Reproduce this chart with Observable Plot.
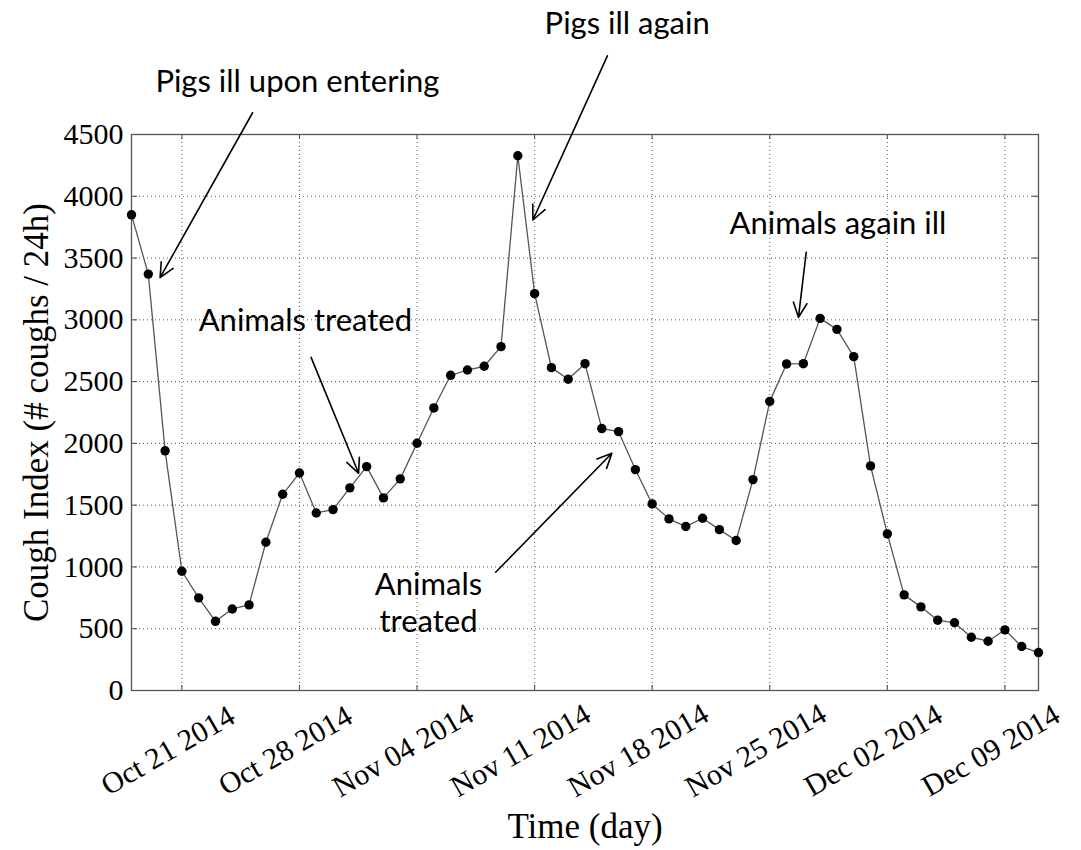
<!DOCTYPE html>
<html>
<head>
<meta charset="utf-8">
<script src="https://cdn.jsdelivr.net/npm/d3@7"></script>
<script src="https://cdn.jsdelivr.net/npm/@observablehq/plot@0.6"></script>
<style>
  html, body { margin: 0; padding: 0; background: #fff; }
  #chart svg { display: block; }
</style>
</head>
<body>
<div id="chart"></div>
<script>
// ---- data ----
const days = [
  "2014-10-18","2014-10-19","2014-10-20","2014-10-21","2014-10-22","2014-10-23","2014-10-24",
  "2014-10-25","2014-10-26","2014-10-27","2014-10-28","2014-10-29","2014-10-30","2014-10-31",
  "2014-11-01","2014-11-02","2014-11-03","2014-11-04","2014-11-05","2014-11-06","2014-11-07",
  "2014-11-08","2014-11-09","2014-11-10","2014-11-11","2014-11-12","2014-11-13","2014-11-14",
  "2014-11-15","2014-11-16","2014-11-17","2014-11-18","2014-11-19","2014-11-20","2014-11-21",
  "2014-11-22","2014-11-23","2014-11-24","2014-11-25","2014-11-26","2014-11-27","2014-11-28",
  "2014-11-29","2014-11-30","2014-12-01","2014-12-02","2014-12-03","2014-12-04","2014-12-05",
  "2014-12-06","2014-12-07","2014-12-08","2014-12-09","2014-12-10","2014-12-11"
];
const coughIndex = [
  3850, 3370, 1940, 965, 750, 560, 660,
  693, 1200, 1588, 1760, 1437, 1464, 1640,
  1812, 1559, 1713, 2001, 2287, 2551, 2594,
  2624, 2783, 4328, 3212, 2613, 2519, 2645,
  2120, 2095, 1788, 1510, 1389, 1327, 1394,
  1302, 1214, 1707, 2340, 2643, 2645, 3012,
  2923, 2702, 1818, 1268, 774, 677, 569,
  548, 431, 399, 491, 356, 307
];
const xTickDays = ["2014-10-21","2014-10-28","2014-11-04","2014-11-11","2014-11-18","2014-11-25","2014-12-02","2014-12-09"];
const yTickValues = [0, 500, 1000, 1500, 2000, 2500, 3000, 3500, 4000, 4500];
const xDomain = ["2014-10-18", "2014-12-11"];
const yDomain = [0, 4500];

// annotations (positions in data units: date-time, cough index)
const noteTexts = ["Pigs ill upon entering", "Pigs ill again", "Animals treated", "Animals again ill", "Animals\ntreated"];
const noteX = ["2014-10-27T21:00Z", "2014-11-16T12:15Z", "2014-10-28T08:25Z", "2014-11-29T01:25Z", "2014-11-04T16:20Z"];
const noteY = [4840, 5315, 2912, 3697, 477];
const arrowX1 = ["2014-10-25T05:00Z", "2014-11-15T08:00Z", "2014-10-28T16:35Z", "2014-11-27T04:05Z", "2014-11-08T16:20Z"];
const arrowY1 = [4676, 5137, 2696, 3546, 957];
const arrowX2 = ["2014-10-19T16:50Z", "2014-11-10T21:35Z", "2014-10-31T12:30Z", "2014-11-26T17:00Z", "2014-11-15T14:25Z"];
const arrowY2 = [3341, 3808, 1758, 3020, 1920];

// ---- build tables ----
const parse = s => new Date(s.length === 10 ? s + "T00:00:00Z" : s);
const series = days.map((d, i) => ({date: parse(d), value: coughIndex[i]}));
const xTicks = xTickDays.map(parse);
const notes = noteTexts.map((t, i) => ({text: t, x: parse(noteX[i]), y: noteY[i]}));
const arrows = arrowX1.map((d, i) => ({x1: parse(d), y1: arrowY1[i], x2: parse(arrowX2[i]), y2: arrowY2[i]}));

const W = 1081, H = 850, mt = 134, mb = 160, ml = 131, mr = 43;
const plotW = W - ml - mr, plotH = H - mt - mb;
const serif = "'Liberation Serif', 'DejaVu Serif', serif";
const sans = "Lato, 'Open Sans', sans-serif";
const fmt = d3.utcFormat("%b %d %Y");

const chart = Plot.plot({
  width: W, height: H,
  marginTop: mt, marginBottom: mb, marginLeft: ml, marginRight: mr,
  style: {fontFamily: serif, fontSize: "30px", background: "#fff", overflow: "visible", color: "#000"},
  x: {type: "utc", domain: xDomain.map(parse)},
  y: {domain: yDomain},
  marks: [
    Plot.gridX(xTicks, {stroke: "#555", strokeOpacity: 1, strokeDasharray: "1,3"}),
    Plot.gridY(yTickValues, {stroke: "#555", strokeOpacity: 1, strokeDasharray: "1,3"}),
    // inward ticks on all four sides
    Plot.tickX(xTicks, {x: d => d, insetTop: plotH - 5, stroke: "#444"}),
    Plot.tickX(xTicks, {x: d => d, insetBottom: plotH - 5, stroke: "#444"}),
    Plot.tickY(yTickValues, {y: d => d, insetRight: plotW - 6, stroke: "#444"}),
    Plot.tickY(yTickValues, {y: d => d, insetLeft: plotW - 6, stroke: "#444"}),
    Plot.frame({stroke: "#555", strokeWidth: 1.3}),
    Plot.axisY({ticks: yTickValues, tickSize: 0, tickPadding: 8, tickFormat: d => String(d),
                fontFamily: serif, fontSize: 30, label: null}),
    Plot.axisX({ticks: xTicks, tickSize: 0, tickFormat: fmt, tickRotate: -30, textAnchor: "middle",
                lineAnchor: "middle", tickPadding: 60, dx: -14, fontFamily: serif, fontSize: 30, label: null}),
    Plot.text(["Time (day)"], {frameAnchor: "bottom", dy: 147, lineAnchor: "bottom", fontFamily: serif, fontSize: 35}),
    Plot.text(["Cough Index (# coughs / 24h)"], {frameAnchor: "left", dx: -84, rotate: -90,
                lineAnchor: "bottom", textAnchor: "middle", fontFamily: serif, fontSize: 35}),
    Plot.line(series, {x: "date", y: "value", stroke: "#555", strokeWidth: 1.3}),
    Plot.dot(series, {x: "date", y: "value", r: 4.7, fill: "#000", stroke: "none"}),
    Plot.arrow(arrows, {x1: "x1", y1: "y1", x2: "x2", y2: "y2", stroke: "#000", strokeWidth: 1.6,
                        headLength: 15, headAngle: 50}),
    Plot.text(notes, {x: "x", y: "y", text: "text", lineAnchor: "bottom", textAnchor: "middle",
                      fontFamily: sans, fontSize: 31, lineHeight: 1.19, fill: "#000"})
  ]
});
document.getElementById("chart").appendChild(chart);
</script>
</body>
</html>
